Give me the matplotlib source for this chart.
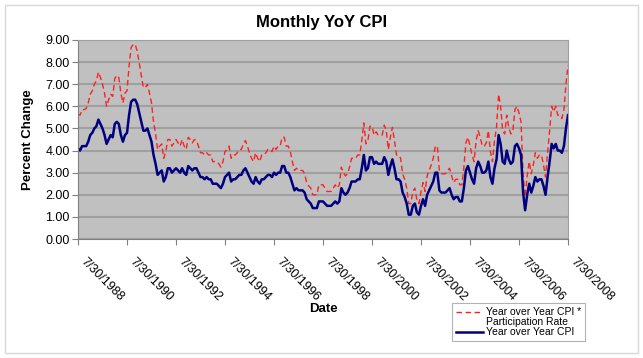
import matplotlib
matplotlib.use('Agg')
import matplotlib.pyplot as plt
from matplotlib.patches import Rectangle
from matplotlib.lines import Line2D

# monthly data, 7/1988 .. 7/2008
cpi_yoy = [
    4.1, 4.0, 4.2, 4.2, 4.2, 4.4,
    4.7, 4.8, 5.0, 5.1, 5.4, 5.2, 5.0, 4.7, 4.3, 4.5, 4.7, 4.6,
    5.2, 5.3, 5.2, 4.7, 4.4, 4.7, 4.8, 5.6, 6.2, 6.3, 6.3, 6.1,
    5.7, 5.3, 4.9, 4.9, 5.0, 4.7, 4.4, 3.8, 3.4, 2.9, 3.0, 3.1,
    2.6, 2.8, 3.2, 3.2, 3.0, 3.1, 3.2, 3.1, 3.0, 3.2, 3.0, 2.9,
    3.3, 3.2, 3.1, 3.2, 3.2, 3.0, 2.8, 2.8, 2.7, 2.8, 2.7, 2.7,
    2.5, 2.5, 2.5, 2.4, 2.3, 2.5, 2.8, 2.9, 3.0, 2.6, 2.7, 2.7,
    2.8, 2.9, 2.9, 3.1, 3.2, 3.0, 2.8, 2.6, 2.5, 2.8, 2.6, 2.5,
    2.7, 2.7, 2.8, 2.9, 2.9, 2.8, 3.0, 2.9, 3.0, 3.0, 3.3, 3.3,
    3.0, 3.0, 2.8, 2.5, 2.2, 2.3, 2.2, 2.2, 2.2, 2.1, 1.8, 1.7,
    1.6, 1.4, 1.4, 1.4, 1.7, 1.7, 1.7, 1.6, 1.5, 1.5, 1.5, 1.6,
    1.7, 1.6, 1.7, 2.3, 2.1, 2.0, 2.1, 2.3, 2.6, 2.6, 2.6, 2.7,
    2.7, 3.2, 3.8, 3.1, 3.2, 3.7, 3.7, 3.4, 3.5, 3.4, 3.4, 3.4,
    3.7, 3.5, 2.9, 3.3, 3.6, 3.2, 2.7, 2.7, 2.6, 2.1, 1.9, 1.6,
    1.1, 1.1, 1.5, 1.6, 1.2, 1.1, 1.5, 1.8, 1.5, 2.0, 2.2, 2.4,
    2.6, 3.0, 3.0, 2.2, 2.1, 2.1, 2.1, 2.2, 2.3, 2.0, 1.8, 1.9,
    1.9, 1.7, 1.7, 2.3, 3.1, 3.3, 3.0, 2.7, 2.5, 3.2, 3.5, 3.3,
    3.0, 3.0, 3.1, 3.5, 2.8, 2.5, 3.2, 3.6, 4.7, 4.3, 3.5, 3.4,
    4.0, 3.6, 3.4, 3.5, 4.2, 4.3, 4.1, 3.8, 2.1, 1.3, 2.0, 2.5,
    2.1, 2.4, 2.8, 2.6, 2.7, 2.7, 2.4, 2.0, 2.8, 3.5, 4.3, 4.1,
    4.3, 4.0, 4.0, 3.9, 4.2, 5.0, 5.6,
]

cpi_x_part = [
    5.65, 5.6, 5.85, 5.85, 5.9, 6.15,
    6.55, 6.7, 7.0, 7.15, 7.55, 7.3, 7.0, 6.6, 6.0, 6.3, 6.55, 6.45,
    7.25, 7.4, 7.3, 6.6, 6.15, 6.6, 6.7, 7.8, 8.65, 8.8, 8.8, 8.5,
    7.95, 7.4, 6.85, 6.85, 7.0, 6.6, 6.15, 5.3, 4.75, 4.05, 4.2, 4.3,
    3.65, 3.95, 4.5, 4.5, 4.2, 4.35, 4.5, 4.35, 4.2, 4.5, 4.2, 4.05,
    4.6, 4.5, 4.35, 4.5, 4.45, 4.2, 3.9, 3.9, 3.8, 3.9, 3.8, 3.8,
    3.5, 3.5, 3.5, 3.4, 3.25, 3.5, 3.95, 4.05, 4.2, 3.65, 3.8, 3.8,
    3.9, 4.05, 4.05, 4.3, 4.45, 4.2, 3.9, 3.65, 3.5, 3.9, 3.65, 3.5,
    3.8, 3.8, 3.9, 4.05, 4.05, 3.95, 4.2, 4.05, 4.2, 4.2, 4.6, 4.6,
    4.2, 4.2, 3.95, 3.5, 3.1, 3.2, 3.1, 3.1, 3.1, 2.95, 2.55, 2.4,
    2.3, 2.0, 2.0, 2.0, 2.45, 2.45, 2.45, 2.3, 2.15, 2.15, 2.15, 2.3,
    2.45, 2.3, 2.45, 3.25, 3.0, 2.85, 2.95, 3.25, 3.65, 3.65, 3.65, 3.8,
    3.8, 4.45, 5.25, 4.3, 4.45, 5.1, 5.1, 4.7, 4.85, 4.7, 4.7, 4.7,
    5.15, 4.9, 4.05, 4.6, 5.05, 4.45, 3.8, 3.8, 3.65, 2.95, 2.7, 2.3,
    1.6, 1.6, 2.15, 2.3, 1.75, 1.6, 2.15, 2.55, 2.15, 2.85, 3.1, 3.35,
    3.65, 4.2, 4.2, 3.1, 2.95, 2.95, 2.95, 3.1, 3.2, 2.85, 2.55, 2.7,
    2.7, 2.45, 2.45, 3.25, 4.35, 4.6, 4.2, 3.8, 3.5, 4.45, 4.9, 4.6,
    4.2, 4.2, 4.35, 4.9, 3.95, 3.5, 4.45, 5.05, 6.55, 6.0, 4.9, 4.75,
    5.6, 5.05, 4.75, 4.9, 5.85, 6.0, 5.7, 5.3, 2.95, 1.9, 2.85, 3.5,
    2.95, 3.35, 3.9, 3.65, 3.8, 3.8, 3.35, 2.8, 3.9, 4.9, 6.0, 5.75,
    6.0, 5.6, 5.6, 5.45, 5.85, 7.0, 7.85,
]

tick_labels = ['7/30/1988', '7/30/1990', '7/30/1992', '7/30/1994', '7/30/1996',
               '7/30/1998', '7/30/2000', '7/30/2002', '7/30/2004', '7/30/2006',
               '7/30/2008']

plt.rcParams['font.family'] = ['Liberation Sans', 'DejaVu Sans']

fig = plt.figure(figsize=(6.43, 3.58), dpi=100)
fig.patches.append(Rectangle((5 / 643, 5 / 358), 633 / 643, 348 / 358,
                             transform=fig.transFigure, fill=False,
                             edgecolor='#d8d8d8', linewidth=1))

ax = fig.add_axes([78 / 643, 1 - 239 / 358, 490 / 643, 199 / 358])
ax.set_facecolor('#c0c0c0')

months = list(range(len(cpi_yoy)))
red_line, = ax.plot(months, cpi_x_part, color='#ff2020', linestyle=(0, (4, 2.5)),
                    linewidth=1.0)
blue_line, = ax.plot(months, cpi_yoy, color='#000080', linewidth=1.8)

ax.set_xlim(0, len(cpi_yoy) - 1)
ax.set_ylim(0, 9)
ax.set_yticks(range(10))
ax.set_yticklabels([f'{v:.2f}' for v in range(10)], fontsize=9)
ax.set_xticks(range(0, len(cpi_yoy), 24))
ax.set_xticklabels(tick_labels, fontsize=9, rotation=-45, ha='left', va='top')
ax.tick_params(axis='x', length=4, color='#808080', pad=8)
ax.tick_params(axis='y', length=4, color='#808080', pad=2)

ax.grid(axis='y', color='#a0a0a0', linewidth=1.5)
ax.set_axisbelow(True)
for side in ['top', 'right']:
    ax.spines[side].set_color('#a0a0a0')
for side in ['left', 'bottom']:
    ax.spines[side].set_color('#808080')

ax.set_ylabel('Percent Change', fontsize=9.5, fontweight='bold', labelpad=8)
fig.text(323 / 643, 1 - 309 / 358, 'Date', fontsize=9.5, fontweight='bold',
         ha='center', va='center')
fig.text(322 / 643, 1 - 22 / 358, 'Monthly YoY CPI', fontsize=12, fontweight='bold',
         ha='center', va='center')

# legend: label of the red series wraps onto a second line
blank = Line2D([], [], linestyle='none')
leg = fig.legend([red_line, blank, blue_line],
                 ['Year over Year CPI *', 'Participation Rate', 'Year over Year CPI'],
                 loc='upper left', bbox_to_anchor=(452 / 643, 1 - 303 / 358),
                 fontsize=7.5, frameon=True, fancybox=False, edgecolor='#a0a0a0',
                 handlelength=2.6, handletextpad=0.25, labelspacing=0.0,
                 borderpad=0.4, borderaxespad=0)
leg.get_frame().set_linewidth(0.8)

plt.savefig('out.png', dpi=100)
